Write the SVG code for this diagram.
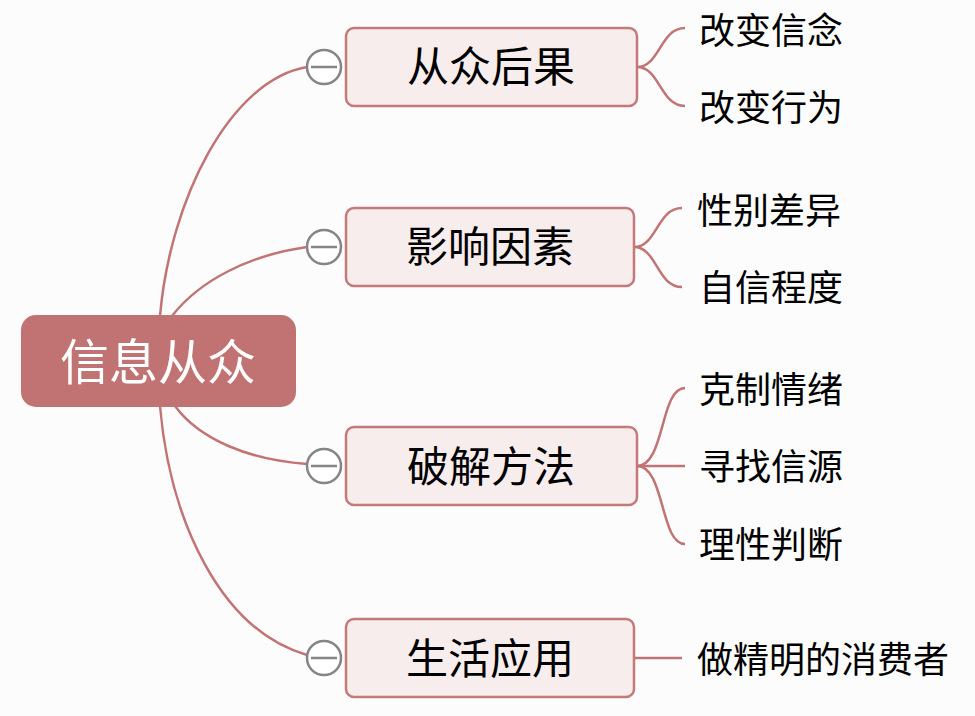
<svg xmlns="http://www.w3.org/2000/svg" width="975" height="716" viewBox="0 0 975 716">
<style>
.bg{fill:#fcfcfc}
.root{fill:#c07372}
.rootText{font-family:"Noto Sans CJK SC","Noto Sans",sans-serif;font-size:49px;fill:#ffffff;text-anchor:middle}
.box{fill:#f8eded;stroke:#c47a7a;stroke-width:2.5}
.mainText{font-family:"Noto Sans CJK SC","Noto Sans",sans-serif;font-size:42px;fill:#000000;text-anchor:middle}
.leafText{font-family:"Noto Sans CJK SC","Noto Sans",sans-serif;font-size:36px;fill:#000000}
.conn{fill:none;stroke:#c27474;stroke-width:2.5}
.tog{fill:#ffffff;stroke:#858585;stroke-width:2.5}
.togLine{stroke:#858585;stroke-width:2.5}
</style>
<rect class="bg" x="0" y="0" width="975" height="716"/>
<g id="connectors">
<path class="conn" d="M160,316 C170,200 230,80 307,67"/>
<path class="conn" d="M172,316 C200,280 250,255 307,247"/>
<path class="conn" d="M175,406 C200,440 250,460 307,464"/>
<path class="conn" d="M160,406 C170,520 220,630 307,655"/>
<path class="conn" d="M637,67 C660,67 660,28 685,28"/>
<path class="conn" d="M637,67 C660,67 660,106 685,106"/>
<path class="conn" d="M634,247 C657,247 657,208 682,208"/>
<path class="conn" d="M634,247 C657,247 657,287 682,287"/>
<path class="conn" d="M637,466 C665,466 660,388 685,388"/>
<path class="conn" d="M637,466 L685,466"/>
<path class="conn" d="M637,466 C665,466 660,544 685,544"/>
<path class="conn" d="M634,658 L682,658"/>
</g>
<g id="root">
<rect class="root" x="21" y="315" width="275" height="92" rx="15"/>
<text class="rootText" x="158" y="380">信息从众</text>
</g>
<g id="n1">
<rect class="box" x="346" y="28" width="291" height="78" rx="8"/>
<text class="mainText" x="491" y="82">从众后果</text>
<circle class="tog" cx="324" cy="67" r="17"/>
<line class="togLine" x1="311" y1="67" x2="337" y2="67"/>
</g>
<g id="n2">
<rect class="box" x="346" y="208" width="288" height="78" rx="8"/>
<text class="mainText" x="490" y="262">影响因素</text>
<circle class="tog" cx="324" cy="247" r="17"/>
<line class="togLine" x1="311" y1="247" x2="337" y2="247"/>
</g>
<g id="n3">
<rect class="box" x="346" y="427" width="291" height="78" rx="8"/>
<text class="mainText" x="491" y="482">破解方法</text>
<circle class="tog" cx="324" cy="466" r="17"/>
<line class="togLine" x1="311" y1="466" x2="337" y2="466"/>
</g>
<g id="n4">
<rect class="box" x="346" y="619" width="288" height="78" rx="8"/>
<text class="mainText" x="490" y="674">生活应用</text>
<circle class="tog" cx="324" cy="658" r="17"/>
<line class="togLine" x1="311" y1="658" x2="337" y2="658"/>
</g>
<g id="leaf1a"><text class="leafText" x="699" y="44">改变信念</text></g>
<g id="leaf1b"><text class="leafText" x="699" y="121">改变行为</text></g>
<g id="leaf2a"><text class="leafText" x="697" y="224">性别差异</text></g>
<g id="leaf2b"><text class="leafText" x="699" y="301">自信程度</text></g>
<g id="leaf3a"><text class="leafText" x="699" y="403">克制情绪</text></g>
<g id="leaf3b"><text class="leafText" x="699" y="480">寻找信源</text></g>
<g id="leaf3c"><text class="leafText" x="699" y="558">理性判断</text></g>
<g id="leaf4"><text class="leafText" x="697" y="673">做精明的消费者</text></g>
</svg>
